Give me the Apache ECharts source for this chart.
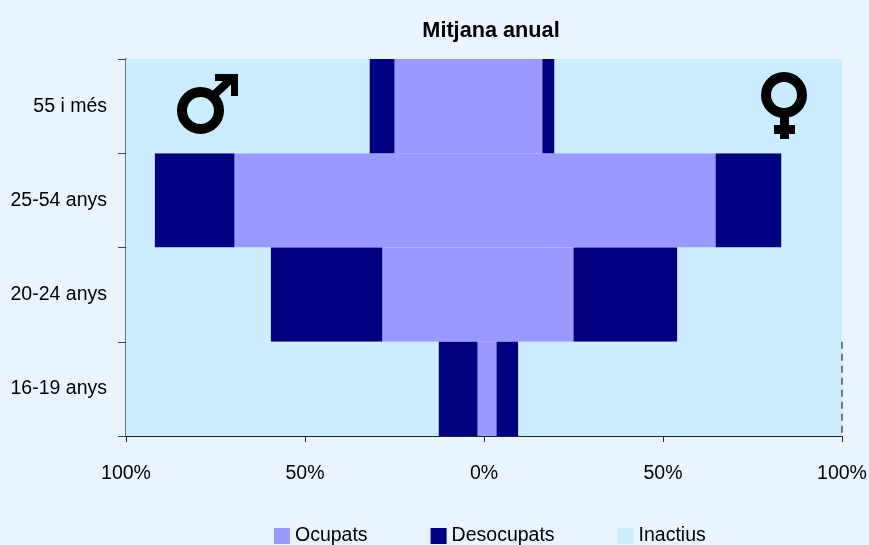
<!DOCTYPE html>
<html><head><meta charset="utf-8">
<style>html,body{margin:0;padding:0;background:#EAF4FF}#c{width:869px;height:545px}</style>
<script src="https://cdn.jsdelivr.net/npm/echarts@6/dist/echarts.min.js"></script>
</head><body><div id="c"></div>
<script>
const categories = ['16-19 anys','20-24 anys','25-54 anys','55 i més'];
const homesOcupats = [1.8,28.4,69.7,25];
const homesDesocupats = [10.9,31.2,22.3,7];
const homesInactius = [87.3,40.4,8,68];
const donesOcupats = [3.5,25,64.7,16.3];
const donesDesocupats = [6.1,29,18.4,3.4];
const donesInactius = [90.4,46,16.9,80.3];
const FONT = '"Liberation Sans",Arial,sans-serif';
const COL = {Ocupats:'#9999FF',Desocupats:'#000080',Inactius:'#CCECFF'};
const neg = a => a.map(v => -v);
const bar = (name, data) => ({name, type:'bar', stack:'t', data, barCategoryGap:0, barWidth:'100%',
  itemStyle:{color:COL[name]}, emphasis:{disabled:true}, silent:true, animation:false});
const chart = echarts.init(document.getElementById('c'), null, {renderer:'canvas'});
const ring = (cx,cy,r) => ({type:'circle', shape:{cx,cy,r}, style:{fill:null,stroke:'#000',lineWidth:10}, silent:true, z:50});
const rect = (x,y,width,height) => ({type:'rect', shape:{x,y,width,height}, style:{fill:'#000'}, silent:true, z:50});
chart.setOption({
  backgroundColor:'#EAF4FF',
  animation:false,
  title:{text:'Mitjana anual', left:486, top:15, textAlign:'center',
    textStyle:{fontFamily:FONT,fontSize:21.7,fontWeight:'bold',color:'#000'}},
  grid:{left:126,right:27,top:59,bottom:109,outerBoundsMode:'none'},
  legend:{data:['Ocupats','Desocupats','Inactius'], left:274, top:526, padding:0, itemWidth:16, itemHeight:16, itemGap:63,
    selectedMode:false, icon:'rect', textStyle:{fontFamily:FONT,fontSize:19.5,color:'#000'}},
  xAxis:{type:'value', min:-100, max:100, interval:50,
    axisLine:{show:true,onZero:false,lineStyle:{color:'#222',width:1}},
    axisTick:{show:true,length:6,lineStyle:{color:'#222'}},
    splitLine:{show:false},
    axisLabel:{margin:28,fontFamily:FONT,fontSize:19.5,color:'#000',formatter:v=>Math.abs(v)+'%'}},
  yAxis:{type:'category', data:categories,
    axisLine:{show:true,onZero:false,lineStyle:{color:'#6b7280',width:2}},
    axisTick:{show:true,length:8,lineStyle:{color:'#444'}},
    axisLabel:{margin:19,fontFamily:FONT,fontSize:19.5,color:'#000',padding:[2,0,0,0]}},
  series:[
    bar('Ocupats',neg(homesOcupats)),bar('Desocupats',neg(homesDesocupats)),bar('Inactius',neg(homesInactius)),
    bar('Ocupats',donesOcupats),bar('Desocupats',donesDesocupats),bar('Inactius',donesInactius),
    {type:'custom', silent:true, z:20, data:[[100,categories[0]]],
     renderItem:(p,api)=>{
       const c=api.coord([api.value(0),0]); const h=api.size([0,1])[1];
       return {type:'line',shape:{x1:c[0],y1:c[1]-h/2,x2:c[0],y2:c[1]+h/2},
         style:{stroke:'#000',lineWidth:1,lineDash:[7,5]}};
     }}
  ],
  graphic:[
    ring(200.5,110.5,18.5),
    {type:'line',shape:{x1:213,y1:96,x2:232,y2:78},style:{stroke:'#000',lineWidth:8},silent:true,z:50},
    rect(215,74,23,7), rect(231,74,7,22),
    ring(784,95,18),
    rect(780,112,9,27), rect(774,125,21,9)
  ]
});
</script></body></html>
